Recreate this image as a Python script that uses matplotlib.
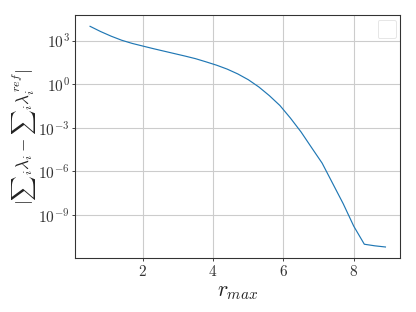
import numpy as np
import matplotlib
matplotlib.use("Agg")
import matplotlib.pyplot as plt

r_max = [0.5, 0.8, 1.1, 1.4, 1.7, 2.0, 2.3, 2.6, 2.9, 3.2, 3.5, 3.8, 4.1, 4.4, 4.7,
         5.0, 5.3, 5.6, 5.9, 6.2, 6.5, 6.8, 7.1, 7.4, 7.7, 8.0, 8.3, 8.6, 8.9]
log10_err = [3.98, 3.62, 3.30, 3.02, 2.80, 2.62, 2.44, 2.27, 2.10, 1.93, 1.75, 1.53,
             1.30, 1.03, 0.70, 0.30, -0.20, -0.80, -1.48, -2.35, -3.30, -4.38,
             -5.45, -6.85, -8.25, -9.80, -11.04, -11.15, -11.23]
err = [10.0 ** v for v in log10_err]

plt.rcParams['font.family'] = 'serif'
plt.rcParams['font.serif'] = ['cmr10', 'DejaVu Serif']
plt.rcParams['mathtext.fontset'] = 'cm'
plt.rcParams['axes.formatter.use_mathtext'] = True

fig = plt.figure(figsize=(6.4, 4.8), dpi=65)
ax = fig.add_axes([0.181, 0.173, 0.781, 0.778])
ax.plot(r_max, err, color='#1f77b4', lw=1.3)
ax.set_yscale('log')
ax.set_yticks([1e-9, 1e-6, 1e-3, 1e0, 1e3])
ax.yaxis.set_minor_locator(matplotlib.ticker.NullLocator())
ax.set_xticks([2, 4, 6, 8])
ax.grid(True, color='#cccccc', lw=1.2)
ax.set_axisbelow(True)
for s in ax.spines.values():
    s.set_color('#333333')
    s.set_linewidth(1.2)
ax.tick_params(labelsize=17, length=3, width=1, color='#333333', labelcolor='#333333')
ax.set_xlabel(r'$r_{max}$', fontsize=24, color='#222222')
ax.set_ylabel(r'$|{\sum}_i \lambda_i - {\sum}_i \lambda_i^{ref}|$', fontsize=19,
              color='#222222', labelpad=0)
ax.legend([], [], loc='upper right', borderpad=1.0, framealpha=0.8, edgecolor='#dddddd')
fig.savefig('out.png', dpi=65)
